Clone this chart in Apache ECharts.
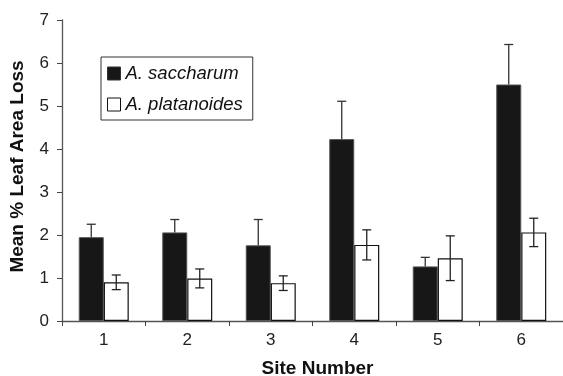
<!DOCTYPE html>
<html><head><meta charset="utf-8">
<script src="https://cdn.jsdelivr.net/npm/echarts@6/dist/echarts.min.js"></script>
<style>html,body{margin:0;padding:0;background:#fff}#c{width:563px;height:376px}</style>
</head><body><div id="c"></div>
<script>
const sites = ['1','2','3','4','5','6'];
const saccharum = [1.95, 2.06, 1.76, 4.23, 1.27, 5.50];
const saccharumErr = [0.30, 0.30, 0.60, 0.88, 0.21, 0.93];
const platanoides = [0.90, 0.99, 0.88, 1.77, 1.46, 2.06];
const platanoidesErr = [0.17, 0.22, 0.17, 0.35, 0.52, 0.33];
const yTicks = [0,1,2,3,4,5,6,7];

const BAR_W = 25;
const chart = echarts.init(document.getElementById('c'));
function errSeries(vals, errs, side, showLower, color){
  return {
    type:'custom', z:5, silent:true,
    data: vals.map((v,i)=>[i, v-errs[i], v+errs[i], side]),
    encode:{x:0, y:[1,2]},
    renderItem:function(params, api){
      const i = api.value(0);
      const lo = api.coord([i, api.value(1)]);
      const hi = api.coord([i, api.value(2)]);
      const base = api.coord([i, vals[i]]);
      const x = lo[0] + api.value(3)*BAR_W/2;
      const cap = 4.5;
      const st = {stroke:color, lineWidth:1.3, fill:null};
      const ch = [
        {type:'line', shape:{x1:x, y1:hi[1], x2:x, y2:showLower?lo[1]:base[1]}, style:st},
        {type:'line', shape:{x1:x-cap, y1:hi[1], x2:x+cap, y2:hi[1]}, style:st}
      ];
      if (showLower) ch.push({type:'line', shape:{x1:x-cap, y1:lo[1], x2:x+cap, y2:lo[1]}, style:st});
      return {type:'group', children:ch};
    }
  };
}
chart.setOption({
  animation:false,
  textStyle:{fontFamily:'Liberation Sans, Arial, sans-serif'},
  grid:{left:62, right:0, top:20, bottom:55, outerBoundsMode:'none', containLabel:false},
  legend:{
    orient:'vertical', left:101, top:57, padding:[7,10,6,6],
    borderColor:'#333', borderWidth:1, itemGap:12,
    itemWidth:13, itemHeight:13, icon:'rect',
    textStyle:{fontStyle:'italic', fontSize:18.5, color:'#111', lineHeight:19},
    data:[{name:'A. saccharum', itemStyle:{color:'#171717', borderColor:'#333', borderWidth:1}},
          {name:'A. platanoides', itemStyle:{color:'#fff', borderColor:'#111', borderWidth:1}}]
  },
  xAxis:{
    type:'category', data:sites, boundaryGap:true,
    name:'Site Number', nameLocation:'middle', nameGap:38,
    nameTextStyle:{fontWeight:'bold', fontSize:19, color:'#111', padding:[0,0,0,10]},
    axisLine:{lineStyle:{color:'#555', width:1.3}},
    axisTick:{show:true, interval:0, length:5, lineStyle:{color:'#444'}},
    axisLabel:{fontSize:17, color:'#222', margin:11}
  },
  yAxis:{
    type:'value', min:yTicks[0], max:yTicks[yTicks.length-1], interval:1,
    name:'Mean % Leaf Area Loss', nameLocation:'middle', nameGap:35,
    nameTextStyle:{fontWeight:'bold', fontSize:19, color:'#111', padding:[0,0,0,8]},
    axisLine:{show:true, lineStyle:{color:'#555', width:1.3}},
    axisTick:{show:true, length:5, lineStyle:{color:'#444'}},
    axisLabel:{fontSize:17, color:'#222', margin:13},
    splitLine:{show:false}
  },
  series:[
    {name:'A. saccharum', type:'bar', data:saccharum, barWidth:BAR_W, barGap:'0%',
     itemStyle:{color:'#171717', borderColor:'#555', borderWidth:1}},
    {name:'A. platanoides', type:'bar', data:platanoides, barWidth:BAR_W, barGap:'0%',
     itemStyle:{color:'#fff', borderColor:'#111', borderWidth:1.2}},
    errSeries(saccharum, saccharumErr, -1, false, '#333'),
    errSeries(platanoides, platanoidesErr, 1, true, '#222')
  ]
});
</script></body></html>
